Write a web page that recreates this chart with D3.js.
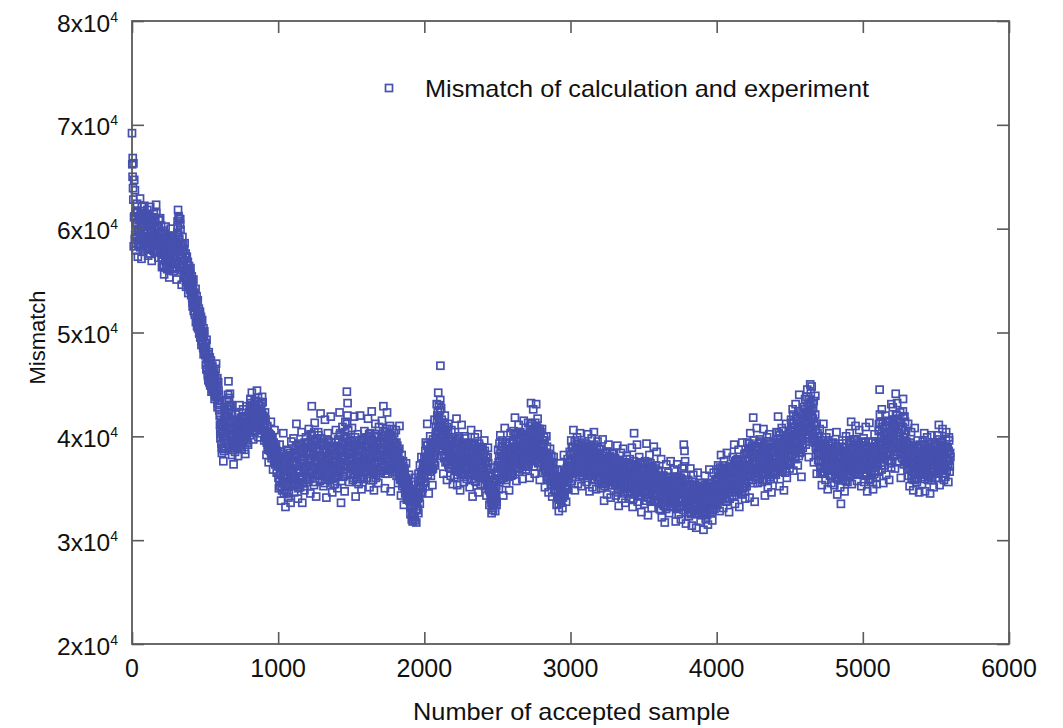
<!DOCTYPE html>
<html>
<head>
<meta charset="utf-8">
<script src="https://cdn.jsdelivr.net/npm/d3@7"></script>
<style>
  html, body { margin: 0; padding: 0; background: #fff; }
  svg { display: block; }
  text { font-family: "Liberation Sans", Arial, sans-serif; fill: #111; }
</style>
</head>
<body>
<svg id="chart" width="1063" height="728"></svg>
<script>
// Accepted-sample mismatch trace, values in units of 1000.
// Three interleaved readings: samples 0,5,10,... / 2,7,12,... / 4,9,14,...
const sampleStep = 5;
const mismatchK = [
  69.2,66.8,66.3,64.7,63.7,61.5,59.2,62.4,57.3,60.8,58.4,62.9,59.9,57.1,61.2,58.9,60.4,62.2,58.0,60.9,
  59.6,61.8,57.4,60.3,58.2,62.1,59.0,56.9,60.7,58.8,61.4,57.8,59.9,62.3,58.5,60.2,57.2,59.4,61.0,58.1,
  58.7,56.3,59.8,57.5,55.6,58.9,60.2,57.0,56.1,59.3,57.9,55.3,58.4,60.0,56.8,57.7,59.1,55.9,58.2,56.6,
  57.4,55.1,59.6,61.8,58.3,56.2,60.9,57.5,54.6,59.2,57.9,55.3,58.6,56.0,54.4,57.3,55.7,53.8,56.4,54.9,
  56.2,53.6,54.8,52.5,55.1,53.0,51.7,54.2,52.8,50.6,53.1,51.4,49.9,52.0,50.3,48.8,51.2,49.5,47.9,50.1,
  48.6,46.9,49.3,47.4,45.8,48.1,46.2,44.9,47.3,45.5,46.8,44.3,46.0,43.6,45.4,47.0,44.1,42.8,45.2,43.4,
  42.0,39.8,41.6,38.4,40.7,37.6,39.5,41.9,38.9,40.8,43.5,41.2,45.3,42.6,44.1,40.3,43.0,38.2,41.4,37.3,
  40.2,38.5,42.1,39.6,41.3,38.1,40.7,43.0,39.2,41.8,38.8,40.4,42.6,39.9,41.1,38.3,40.0,42.9,39.4,41.5,
  42.3,40.1,43.6,41.2,44.2,42.0,39.7,41.8,43.1,40.6,42.7,44.4,41.5,39.9,43.3,41.0,42.5,40.3,43.8,41.7,
  41.9,39.6,42.3,40.4,38.2,41.0,39.1,37.5,40.2,38.6,41.4,37.9,39.8,36.8,38.9,40.6,37.3,39.2,36.5,38.4,
  37.1,35.0,39.2,36.4,33.8,38.0,35.7,40.3,34.5,37.6,33.2,36.2,38.7,35.3,34.1,37.9,36.8,33.6,39.5,35.9,
  36.9,39.8,34.6,38.1,35.5,41.2,37.3,34.0,36.5,39.3,35.1,37.8,40.4,33.6,36.2,38.6,34.8,37.0,39.9,35.8,
  38.3,36.1,40.7,37.4,34.5,39.2,42.9,36.8,38.9,35.3,41.3,37.7,34.2,39.6,36.5,40.1,38.0,35.7,42.2,37.1,
  36.9,39.4,35.2,38.5,41.6,36.3,34.1,37.8,40.3,35.9,38.7,36.6,41.9,37.2,34.6,39.0,36.0,38.2,35.4,40.6,
  37.5,35.0,39.7,36.7,42.3,38.4,33.6,37.9,40.9,36.1,38.8,34.7,41.4,37.3,44.3,43.2,39.1,35.6,38.0,36.4,
  38.5,40.8,35.8,37.6,41.9,36.4,34.2,39.3,37.0,40.2,35.4,38.1,42.0,36.8,34.9,39.6,37.7,35.9,40.5,38.3,
  37.2,39.9,36.0,41.7,38.4,35.1,40.3,37.6,42.4,36.6,39.0,34.8,38.7,41.2,36.3,39.5,37.9,35.5,40.9,38.1,
  39.2,36.7,41.5,38.0,42.9,37.3,35.0,40.1,38.6,42.3,36.4,39.7,37.5,41.0,34.7,38.9,40.7,36.9,39.4,37.8,
  38.4,40.6,36.2,39.1,35.5,37.7,41.0,36.8,34.3,38.2,35.9,37.1,33.4,36.5,34.8,37.4,33.9,35.6,34.0,36.3,
  34.2,32.5,35.6,33.1,31.8,34.7,32.2,36.0,33.5,31.7,34.9,33.0,36.4,34.1,37.2,35.3,38.0,34.6,36.8,35.5,
  37.9,35.6,39.4,36.7,41.2,38.3,34.5,37.1,40.0,36.2,38.8,35.3,39.7,37.4,41.6,38.6,40.9,43.1,39.5,44.2,
  41.8,39.2,46.8,42.7,38.1,40.9,36.4,39.8,42.0,37.5,40.3,35.8,38.7,41.2,37.0,39.5,36.2,40.6,38.3,35.4,
  38.6,36.0,40.4,37.2,41.7,35.3,38.9,36.7,39.8,34.8,37.9,41.1,36.4,38.2,35.6,40.0,37.5,39.3,35.9,38.4,
  36.9,39.2,35.1,37.8,40.6,36.3,34.2,38.5,37.0,39.9,35.7,38.1,36.5,40.2,34.6,37.3,39.0,35.4,38.7,36.1,
  38.2,36.0,39.6,35.2,37.5,34.3,36.8,38.9,35.6,33.4,36.2,34.0,32.6,35.5,33.1,37.0,34.7,32.8,35.9,33.7,
  36.4,38.7,34.9,37.6,40.1,35.8,39.0,36.9,34.3,38.2,40.8,37.1,35.5,39.4,36.6,38.5,34.8,37.9,40.3,36.2,
  38.9,36.3,40.5,37.6,41.8,38.2,35.7,39.6,37.0,41.1,36.6,39.1,40.2,37.9,35.9,38.6,41.5,37.3,39.8,36.8,
  39.4,37.1,41.3,38.5,36.0,40.6,43.2,39.0,37.6,42.6,38.8,36.4,40.1,43.1,38.2,41.7,37.4,39.9,35.8,40.4,
  38.6,40.7,36.5,39.2,37.3,35.1,38.4,40.0,36.1,37.9,34.6,36.9,38.8,35.4,37.2,34.2,36.3,38.0,34.9,36.7,
  35.2,33.4,36.8,34.6,32.8,35.9,37.4,34.0,36.1,33.1,35.5,38.2,34.3,36.6,33.7,35.0,37.8,34.9,36.4,38.5,
  37.5,39.6,35.7,38.3,40.6,36.5,34.8,38.9,37.0,39.9,35.4,38.0,36.7,40.3,37.8,35.2,39.1,36.2,38.6,37.3,
  36.9,39.3,35.6,38.1,40.2,37.4,34.7,38.7,36.3,39.8,35.1,37.7,40.4,36.6,38.4,34.9,37.2,39.5,35.8,38.0,
  36.5,38.8,35.0,37.6,39.7,36.0,33.8,37.9,35.5,38.5,34.4,36.9,39.2,35.7,37.3,34.1,36.2,38.3,35.3,37.0,
  35.6,37.9,34.3,36.7,39.1,35.2,33.3,37.2,35.9,38.4,34.0,36.4,38.8,35.0,37.5,33.6,36.0,38.1,34.7,36.8,
  35.3,37.8,34.0,36.5,38.9,33.2,35.9,40.3,37.1,34.6,36.2,39.2,33.7,35.5,38.0,34.3,36.9,32.7,35.0,37.4,
  35.8,33.5,37.6,34.7,39.3,36.1,32.4,35.2,38.2,34.0,36.6,33.1,37.0,35.4,39.0,33.8,36.3,34.5,38.5,35.1,
  34.4,36.7,33.0,35.6,37.8,32.2,34.9,36.2,33.6,31.7,35.3,37.3,33.9,34.8,36.5,32.6,35.0,37.6,33.3,34.1,
  35.6,33.2,36.8,34.3,31.8,35.0,37.3,33.7,32.5,36.0,34.6,32.0,35.4,36.9,33.4,39.2,38.6,34.1,31.6,35.2,
  33.5,35.8,32.3,34.6,36.9,33.0,31.4,34.2,36.3,32.8,35.1,33.7,31.2,34.8,36.5,32.5,33.9,35.5,31.8,34.0,
  32.4,34.7,31.0,33.6,36.2,32.0,35.0,33.3,31.5,34.4,36.8,32.7,35.4,33.9,31.9,34.1,36.5,33.0,35.7,34.6,
  35.9,33.4,37.2,34.6,32.8,36.3,38.2,34.0,35.5,33.1,37.6,35.0,36.8,33.7,38.4,34.9,36.1,32.7,35.3,37.0,
  36.4,34.2,38.0,35.3,39.2,33.5,36.9,37.7,34.8,36.0,38.7,33.2,35.7,37.3,34.5,39.4,36.6,35.1,38.3,34.0,
  37.6,35.2,39.4,36.3,38.6,34.1,40.3,37.0,35.8,38.1,41.8,36.5,33.7,39.0,37.4,40.8,35.5,38.4,36.8,39.7,
  37.3,39.5,35.6,38.2,40.7,36.4,34.3,38.8,37.0,39.9,35.1,37.8,40.2,36.1,38.5,34.6,37.5,39.2,35.9,38.0,
  38.6,36.3,40.4,37.5,41.9,38.9,35.2,39.3,37.1,40.8,36.6,38.2,34.8,39.8,37.7,41.2,36.0,38.7,40.0,37.3,
  39.5,37.4,41.3,38.6,42.6,36.7,40.2,38.0,43.1,39.8,41.7,37.2,40.6,44.0,38.9,42.2,36.1,40.9,39.3,42.8,
  41.4,43.6,39.2,42.3,44.5,40.6,38.0,43.0,45.0,41.8,44.8,39.7,42.7,37.5,41.0,43.9,39.0,36.4,40.3,38.5,
  38.2,40.7,36.4,39.1,35.3,37.7,41.2,36.9,38.6,35.8,39.9,37.3,34.9,38.0,40.3,36.2,38.8,35.5,37.5,39.4,
  37.6,35.3,39.0,36.5,40.4,34.4,37.9,36.0,38.7,35.1,33.5,37.1,39.6,35.8,38.2,34.7,36.8,40.0,37.4,35.6,
  38.1,36.2,40.3,37.3,41.4,35.4,38.9,37.0,39.7,36.5,41.0,38.4,35.7,39.2,37.6,40.6,36.8,38.7,35.2,39.5,
  37.4,39.8,35.6,38.3,40.9,36.5,34.7,38.8,37.1,41.3,35.9,38.0,36.3,39.4,34.9,37.8,40.2,36.7,38.5,35.4,
  38.9,36.6,41.2,44.5,39.5,37.2,42.6,38.1,35.5,40.4,37.8,42.0,36.3,39.7,41.5,38.5,35.8,40.0,37.4,43.1,
  40.2,42.8,38.3,41.6,36.9,44.1,39.4,43.2,37.6,41.0,38.8,42.3,36.0,40.7,39.1,43.6,37.3,41.9,38.0,40.5,
  39.3,36.8,41.2,37.9,35.2,38.6,40.4,36.3,39.0,34.8,37.5,40.8,36.0,38.2,35.6,39.6,37.1,34.6,38.5,36.4,
  37.8,35.4,39.5,36.7,40.3,34.7,38.3,37.0,39.9,35.8,38.9,36.2,34.5,37.6,40.1,36.0,38.5,35.1,39.2,37.3,
  38.6,36.4,40.1,37.2,41.1,35.3,38.0,39.4,36.7,40.7,37.6,35.8,39.0,36.1,40.4,37.8,38.9,35.6,39.6,37.1
];
const mismatchKOffset2 = [
  66.2,63.9,58.3,61.2,59.4,57.9,60.6,61.7,58.8,59.7,61.0,58.2,60.3,62.1,59.1,57.8,60.9,59.5,61.4,58.6,
  60.4,58.1,61.3,59.2,57.6,60.8,59.9,58.6,61.1,57.9,59.4,60.6,58.4,61.5,59.0,57.7,60.2,58.9,61.0,59.6,
  57.2,59.0,56.4,58.3,57.6,59.4,56.9,58.0,56.2,58.8,57.3,59.2,56.6,58.5,57.8,56.1,59.3,57.0,58.6,56.7,
  58.9,56.7,60.7,59.4,61.0,57.8,59.9,56.3,58.2,57.1,56.5,58.0,55.4,57.6,56.0,55.2,56.8,54.7,55.9,54.1,
  55.0,54.1,53.3,54.5,52.1,53.8,52.6,51.0,53.5,51.8,50.4,52.3,50.9,49.6,51.5,49.2,50.0,48.5,49.7,48.2,
  47.8,48.9,46.4,47.9,45.4,46.7,47.6,45.0,46.3,44.6,45.9,44.8,45.2,44.0,46.5,43.8,44.7,43.2,44.4,42.5,
  41.1,40.2,39.3,40.9,38.8,41.5,40.0,42.4,39.7,41.9,42.8,44.0,43.3,41.7,42.9,39.6,40.8,39.1,38.7,40.1,
  39.3,41.4,40.0,38.9,41.0,39.7,42.2,40.5,39.0,40.9,41.7,39.5,40.2,41.9,38.7,40.6,41.2,39.8,40.8,42.0,
  41.4,42.9,40.8,42.2,43.0,41.1,40.5,42.6,41.9,43.4,40.9,42.1,43.7,41.3,42.4,40.7,41.8,43.2,42.0,40.9,
  40.8,41.3,39.9,40.5,39.4,40.0,38.7,39.6,38.9,39.7,38.4,39.3,38.1,38.8,37.6,38.5,37.9,38.2,37.4,37.9,
  36.0,37.8,35.2,36.9,38.3,34.8,36.6,37.5,35.6,36.3,38.1,34.6,37.2,36.1,35.4,37.0,38.4,35.8,36.7,37.3,
  37.5,35.8,38.4,36.1,39.0,37.9,35.3,38.7,36.8,37.4,39.2,36.0,38.1,35.6,37.7,36.5,39.4,37.1,35.9,38.3,
  37.7,39.4,36.5,38.6,40.2,37.2,39.0,36.0,38.2,40.4,36.9,38.8,37.4,39.8,36.3,38.5,37.0,39.3,36.7,38.1,
  38.0,36.4,39.1,37.3,35.8,38.6,37.9,39.7,36.2,37.6,38.9,36.9,39.4,35.9,38.3,37.1,39.0,36.6,38.4,37.4,
  38.3,36.5,39.6,37.4,40.1,36.8,38.9,37.7,39.3,36.2,38.0,40.4,37.1,39.8,41.2,39.5,37.6,38.7,36.9,39.1,
  37.9,39.5,36.3,38.4,37.1,39.9,36.7,38.2,35.9,37.6,39.2,36.9,38.8,37.3,39.7,36.1,38.0,37.5,39.0,36.6,
  38.4,36.6,39.3,37.8,40.2,36.9,38.9,37.2,39.7,38.1,36.4,39.0,37.5,40.0,38.3,36.8,39.4,37.7,38.8,36.7,
  38.1,40.0,37.4,39.2,36.7,38.6,40.4,37.9,39.5,37.1,38.8,40.2,36.9,39.0,38.3,37.6,39.8,38.0,37.2,39.3,
  39.0,37.4,38.5,36.9,38.1,36.3,37.7,35.8,37.2,36.0,36.8,35.4,36.1,35.0,35.7,34.6,35.3,34.3,35.0,34.5,
  33.8,34.6,33.2,32.6,34.0,33.4,32.3,33.9,34.5,33.6,32.9,34.3,35.1,35.8,35.0,36.3,35.9,36.6,37.0,36.2,
  37.2,38.6,36.6,38.0,39.2,37.5,36.9,38.3,39.0,37.7,36.8,38.4,37.9,39.3,38.2,39.8,40.4,41.5,42.3,40.9,
  40.5,42.5,41.0,39.6,40.2,38.6,39.9,37.9,40.7,38.9,39.3,37.6,39.9,38.4,39.0,37.8,38.7,39.5,37.2,38.0,
  37.7,39.2,36.8,38.5,37.3,39.6,36.6,38.1,37.8,39.0,36.4,38.7,37.4,39.4,37.0,38.3,36.9,38.9,37.6,37.1,
  37.6,38.4,36.5,37.9,38.9,36.8,37.3,39.3,36.2,38.0,37.2,38.6,36.7,37.8,38.8,36.4,37.5,38.2,36.9,37.7,
  37.0,38.3,36.4,37.6,35.9,36.9,35.3,37.4,34.8,35.7,34.6,33.9,34.9,33.5,34.2,35.1,33.8,34.5,35.2,35.8,
  37.2,36.3,38.1,37.0,38.6,36.6,37.8,39.1,36.0,37.4,38.3,36.8,39.3,37.6,36.4,38.8,37.1,36.7,38.4,37.9,
  38.1,39.6,37.5,39.0,38.3,40.1,37.2,38.8,39.7,37.8,38.6,40.4,37.4,39.2,38.0,39.9,37.7,38.9,39.4,38.2,
  38.4,40.0,39.3,37.9,40.7,38.6,39.6,41.2,38.1,39.8,40.3,37.7,39.1,40.9,38.9,39.5,40.5,38.3,39.7,38.7,
  39.2,37.8,38.5,37.0,39.6,37.9,36.8,38.2,37.4,36.6,37.7,35.9,37.5,36.4,35.8,36.9,35.6,36.2,35.5,35.9,
  34.7,35.8,34.2,35.4,33.9,34.8,35.6,33.6,34.9,35.7,34.4,36.0,35.2,36.3,35.9,36.8,36.2,37.1,37.5,36.9,
  38.2,36.8,37.6,39.0,37.2,38.4,36.6,37.9,39.3,37.4,38.7,36.9,38.1,37.5,39.1,36.7,38.0,37.7,38.9,37.1,
  37.8,36.5,38.6,37.0,38.2,36.2,37.6,39.0,36.8,38.4,37.3,36.6,38.9,37.5,36.9,38.1,37.9,36.4,37.2,38.7,
  37.3,35.8,36.5,38.1,36.9,35.5,37.7,36.3,38.4,36.0,37.1,35.9,37.5,36.6,38.0,35.7,36.8,37.4,36.2,37.9,
  36.6,35.4,37.3,35.9,37.0,34.8,36.3,37.6,35.6,36.9,35.2,36.1,37.4,35.8,36.7,34.9,36.4,37.1,35.5,36.2,
  36.1,35.0,36.8,34.7,37.3,35.6,36.4,34.4,35.9,37.0,35.3,36.5,34.9,36.2,35.7,37.5,34.6,35.8,36.6,35.1,
  35.0,36.4,34.4,35.8,37.0,35.3,34.1,36.2,35.6,37.4,34.8,35.9,36.7,34.5,35.5,36.9,34.2,35.7,36.1,34.9,
  35.1,33.7,34.8,36.0,33.9,35.4,34.2,33.4,35.8,34.5,33.2,34.9,36.1,34.0,35.2,33.6,34.6,35.6,33.8,34.3,
  34.2,35.3,33.5,34.8,36.0,33.1,34.5,35.6,33.9,34.9,33.3,35.9,34.4,33.7,35.1,37.1,35.8,34.6,33.2,34.0,
  34.3,33.1,35.0,33.8,34.6,32.6,33.9,35.3,33.4,34.1,32.9,34.8,33.6,35.2,32.8,34.4,33.2,34.9,33.5,34.7,
  33.7,32.8,34.5,33.2,35.1,33.9,32.5,34.2,33.5,35.4,33.0,34.0,35.0,32.9,34.6,33.4,35.2,34.1,33.6,35.0,
  35.2,34.3,36.1,35.0,36.6,34.5,35.7,36.9,34.7,35.4,36.3,34.1,35.9,36.5,35.1,34.6,36.0,35.6,34.9,36.4,
  35.6,36.8,34.9,36.3,37.2,35.4,36.0,37.5,35.2,36.6,34.7,36.4,37.0,35.8,36.9,35.0,37.3,36.1,35.5,36.7,
  36.9,38.3,37.1,38.8,36.4,37.8,38.5,36.7,39.1,37.3,38.0,36.1,38.7,37.5,36.6,38.2,37.9,39.3,37.0,38.4,
  38.0,36.6,37.4,38.7,36.9,37.8,39.0,36.5,38.3,37.1,38.9,36.8,37.6,38.4,36.3,37.9,38.6,37.2,36.7,38.1,
  37.9,39.3,38.1,39.7,37.4,38.8,40.1,37.7,39.0,38.4,36.9,39.5,38.0,37.2,38.9,39.9,37.6,38.6,39.2,38.3,
  38.8,40.4,39.1,40.9,38.3,41.2,39.6,40.0,38.6,41.5,39.4,40.7,38.1,39.9,41.0,38.5,40.3,39.2,41.8,40.6,
  40.5,42.0,41.1,39.8,42.9,41.5,40.2,42.4,43.3,40.9,41.9,43.1,40.0,41.3,39.4,40.7,38.7,39.9,38.3,39.1,
  37.5,39.0,38.4,37.0,38.9,36.6,38.1,39.3,37.4,38.7,36.9,38.3,37.8,39.1,36.7,37.9,38.5,37.1,38.2,37.6,
  36.8,38.3,37.3,38.9,36.4,37.8,38.5,36.7,37.2,38.1,36.2,38.6,37.0,36.5,38.0,37.7,36.1,38.4,37.5,36.9,
  37.4,38.8,37.0,39.2,38.2,36.7,38.5,37.7,39.6,37.2,38.6,36.9,38.0,39.4,37.5,36.8,38.3,39.0,37.1,38.4,
  38.1,36.8,37.6,39.1,36.4,38.4,37.2,39.5,36.9,37.8,38.7,36.3,37.4,38.9,37.9,36.6,38.2,37.0,39.0,37.5,
  37.8,39.4,40.6,42.1,38.7,40.0,39.1,41.4,37.9,38.6,40.3,39.2,38.2,40.8,39.6,37.6,38.9,41.1,39.9,40.5,
  39.0,41.2,39.8,40.6,38.6,42.1,40.3,39.4,41.7,38.9,40.0,41.4,39.2,38.4,40.9,41.9,39.6,40.2,38.8,39.5,
  38.4,37.6,39.2,36.9,38.0,37.3,38.7,36.6,37.8,38.9,36.4,37.5,38.3,37.0,39.0,36.7,38.1,37.4,36.8,37.9,
  37.1,38.6,36.5,38.0,37.4,39.1,36.8,37.9,38.4,36.3,37.6,38.8,37.2,36.6,38.2,37.7,36.9,38.5,37.3,38.1,
  37.9,38.7,37.0,39.2,38.2,36.8,38.5,37.4,39.5,37.8,38.1,36.9,38.8,37.6,39.0,38.3,37.2,38.6,37.7,38.4
];
const mismatchKOffset4 = [
  65.0,62.8,61.1,59.0,60.5,58.6,61.6,59.8,58.4,60.9,59.3,61.4,58.9,60.2,61.7,59.6,58.5,60.7,59.1,61.2,
  58.7,60.9,59.3,58.0,60.4,61.1,58.5,59.8,60.7,57.9,59.1,61.0,58.3,60.1,59.6,58.1,60.8,59.0,57.9,60.3,
  58.1,57.0,59.1,56.5,57.8,58.7,56.3,57.4,59.0,56.9,58.4,56.4,57.6,59.2,56.7,58.3,57.2,56.2,58.0,57.5,
  56.3,58.1,60.2,61.2,59.0,60.4,58.5,57.2,56.0,58.4,56.9,55.8,57.2,55.0,56.6,54.8,56.1,55.4,54.5,55.6,
  54.3,55.4,52.9,53.9,53.4,51.9,52.4,53.0,51.3,52.1,51.0,50.7,51.7,49.5,50.8,49.9,49.0,50.4,48.6,49.0,
  48.0,46.5,47.6,46.0,47.1,45.2,46.9,45.7,44.3,46.0,45.1,46.3,44.4,45.8,43.9,44.9,45.6,43.5,44.0,43.0,
  40.5,41.2,38.9,40.3,39.9,38.6,41.0,40.4,42.0,39.3,41.9,42.6,43.7,43.0,41.5,42.2,39.9,40.6,39.5,38.9,
  40.7,39.4,41.0,40.2,39.0,41.6,40.0,41.4,40.8,39.3,40.5,41.9,39.7,41.2,40.3,39.6,41.5,40.9,39.2,40.6,
  41.6,42.5,43.2,41.0,42.8,41.4,42.2,43.4,40.8,41.9,42.6,41.2,43.0,42.0,40.7,42.9,41.5,42.3,43.3,41.8,
  41.0,40.1,41.6,39.8,40.9,39.0,40.3,38.8,39.5,40.1,38.6,39.9,38.3,39.4,38.0,39.0,37.7,38.6,37.9,37.5,
  37.4,35.6,36.3,38.5,35.1,37.0,36.2,38.0,34.9,36.8,37.7,35.4,36.0,38.6,34.5,37.3,35.9,38.2,36.5,35.2,
  36.3,38.0,35.4,37.5,39.1,36.6,38.3,35.0,37.1,38.8,35.9,37.4,36.1,38.9,35.2,37.6,36.8,38.5,35.6,37.2,
  39.0,36.7,38.3,35.9,37.8,40.1,36.4,38.6,39.6,37.0,35.6,39.2,37.6,38.1,40.4,36.2,38.8,37.3,39.8,36.6,
  36.6,38.8,37.6,35.5,39.2,37.0,38.4,36.1,39.5,37.4,35.8,38.2,36.8,39.0,37.7,35.4,38.6,36.3,39.4,37.2,
  37.0,39.1,36.2,38.6,40.3,37.5,35.7,39.4,38.1,36.6,40.0,37.8,36.4,38.9,42.0,40.6,38.4,37.1,39.6,36.9,
  37.3,38.9,36.0,38.3,39.6,36.8,37.9,35.6,39.1,37.6,36.5,38.6,35.9,39.4,37.0,38.5,36.3,39.7,37.4,38.0,
  37.5,39.6,36.4,38.9,37.1,40.0,36.6,38.3,37.9,35.8,39.2,37.3,40.2,36.0,38.6,39.9,37.0,38.2,36.5,39.4,
  39.6,37.6,38.8,40.5,37.0,39.3,36.4,38.3,40.7,37.8,39.9,36.8,38.6,40.1,37.3,39.1,36.6,38.4,40.3,38.0,
  38.1,39.4,37.0,38.6,36.4,38.8,35.9,37.3,36.6,35.2,37.6,35.7,36.9,34.5,36.0,35.0,35.8,34.7,35.3,33.8,
  33.2,34.3,32.0,33.7,32.7,33.3,31.9,34.2,32.9,33.8,34.0,32.6,34.6,33.5,35.6,34.5,36.5,35.0,37.4,36.0,
  36.7,38.0,37.4,39.1,36.3,38.6,37.6,36.6,38.5,37.0,39.4,36.9,38.1,38.8,37.2,40.2,39.2,42.0,40.6,43.0,
  41.3,43.5,40.1,41.6,39.1,40.5,38.2,41.1,39.4,38.1,40.9,38.7,37.3,39.7,38.6,36.9,39.2,37.7,39.9,37.5,
  38.1,36.7,39.5,37.5,36.3,38.7,40.0,37.0,38.4,36.5,39.3,37.7,38.9,36.1,38.0,39.8,36.8,37.9,39.1,37.2,
  36.3,38.2,37.4,39.4,35.9,37.8,38.7,36.6,39.1,37.1,35.6,38.5,37.6,36.2,39.3,37.9,36.0,38.6,37.3,38.9,
  37.6,36.6,38.6,36.2,37.9,35.3,38.0,36.1,36.5,34.9,35.3,33.6,34.4,32.9,35.0,33.6,35.7,34.0,33.4,36.6,
  36.9,37.5,39.3,35.9,38.3,37.2,39.6,36.2,38.0,36.8,39.1,35.8,37.7,38.5,36.1,37.4,39.4,36.5,37.9,38.8,
  39.3,37.4,38.7,40.2,37.0,39.0,38.0,36.9,40.3,38.4,37.3,39.5,38.9,36.8,39.9,37.6,40.1,38.5,37.1,39.7,
  40.2,38.3,37.3,39.5,41.0,37.8,38.7,40.4,39.3,37.1,39.8,41.3,38.0,39.2,40.8,37.5,38.6,40.7,39.0,37.9,
  37.5,39.6,38.0,39.9,36.7,38.4,37.2,39.0,35.9,37.6,38.3,36.2,37.0,38.1,35.7,37.5,36.6,34.8,36.0,35.4,
  35.9,34.1,35.3,33.5,35.7,34.4,33.9,35.1,36.0,34.1,35.8,34.6,36.5,34.9,36.9,35.6,37.1,35.9,36.5,37.7,
  37.0,38.9,36.4,38.5,37.6,39.5,36.1,38.0,37.3,36.6,39.2,37.9,36.3,38.7,37.1,39.4,36.9,38.2,36.5,38.8,
  38.3,37.1,39.1,36.0,37.9,38.8,36.5,37.4,38.6,35.9,37.0,39.2,36.3,38.1,37.7,39.0,36.1,38.4,36.7,37.6,
  36.1,37.8,35.4,37.0,38.3,36.6,35.2,37.5,36.4,38.5,35.7,37.2,36.0,38.1,35.3,37.6,36.8,38.4,35.6,36.5,
  37.1,35.3,36.4,37.7,34.6,36.2,35.8,37.5,34.9,36.6,37.2,35.1,36.8,34.5,37.0,35.6,37.8,35.0,36.3,37.4,
  36.7,34.5,37.2,35.4,36.1,34.0,37.6,35.8,36.6,34.7,37.1,35.2,36.3,34.2,37.4,35.9,36.0,34.8,37.3,35.5,
  34.6,36.8,35.4,33.8,36.2,37.3,34.8,35.9,36.9,33.7,35.6,37.1,34.3,36.4,35.1,33.9,37.2,35.7,34.4,36.6,
  33.5,35.9,34.5,32.9,35.4,34.0,36.2,33.3,34.8,35.7,33.0,34.3,35.5,33.8,36.0,34.6,33.2,35.2,34.1,35.8,
  34.9,33.6,35.8,34.1,33.0,35.5,36.1,34.6,33.3,35.2,36.0,33.9,34.7,35.6,32.9,36.3,37.6,35.1,33.8,34.4,
  32.7,34.9,33.5,35.4,32.5,34.2,35.6,33.2,34.7,32.9,35.3,33.9,32.6,34.5,35.1,33.0,34.8,32.8,35.5,33.7,
  34.9,33.3,32.6,35.3,33.8,34.6,32.4,35.0,34.1,32.9,35.5,33.6,34.4,32.7,35.2,33.1,34.7,35.6,33.4,34.2,
  34.6,36.8,35.3,33.9,37.0,35.9,34.2,36.5,35.0,37.2,34.4,36.2,35.6,33.8,36.7,35.2,37.1,34.0,36.4,35.7,
  37.0,35.1,36.7,34.3,37.6,35.8,34.6,36.4,37.8,35.3,36.9,34.9,37.3,36.2,34.4,37.5,35.5,36.8,34.7,37.1,
  38.4,36.5,37.9,35.8,39.3,37.1,36.2,38.9,37.6,35.5,39.6,38.1,36.9,37.4,39.0,36.4,38.6,35.9,39.4,37.0,
  36.8,38.6,37.2,35.8,39.2,37.7,36.4,38.9,35.7,38.0,36.6,39.4,37.4,35.9,38.5,37.0,36.3,39.0,37.8,36.5,
  39.4,37.4,38.9,36.6,40.3,38.1,37.0,39.8,38.5,36.8,40.5,37.8,39.1,36.5,38.3,40.0,37.3,39.6,38.0,36.9,
  39.9,41.6,38.2,40.5,42.1,39.0,40.8,37.8,41.9,39.5,38.7,42.4,40.1,38.4,41.3,39.7,42.0,38.9,40.4,41.1,
  42.6,40.1,43.8,41.6,40.8,43.5,42.2,39.5,44.2,42.5,40.4,41.7,43.4,39.8,42.1,38.9,41.2,40.0,37.7,39.6,
  39.2,37.0,38.5,36.5,39.6,37.7,38.2,36.4,39.0,37.4,38.8,36.7,39.5,37.6,38.1,36.3,39.3,38.0,36.9,38.6,
  38.2,36.1,39.1,37.0,35.9,38.7,37.4,39.3,36.3,38.0,35.8,37.6,38.9,36.6,39.0,37.2,35.7,38.5,36.8,38.1,
  38.7,37.2,39.5,36.4,38.3,37.7,39.2,36.6,38.1,39.7,37.0,38.9,36.3,37.9,39.0,37.4,38.6,36.8,39.4,37.6,
  36.5,38.5,37.1,39.4,36.2,37.9,38.7,35.8,37.5,39.0,36.7,38.3,37.0,35.6,38.8,36.4,37.7,39.3,36.0,38.1,
  37.4,40.5,38.0,41.3,39.2,36.8,40.9,38.4,39.8,37.2,41.0,38.8,40.1,37.7,39.4,41.4,38.2,39.6,37.0,40.2,
  41.6,39.3,40.8,38.1,41.0,39.7,42.0,38.5,40.4,37.5,41.3,39.0,40.6,37.9,42.4,39.9,38.7,41.4,39.4,37.7,
  37.1,38.9,36.2,38.4,39.4,37.5,36.0,38.1,37.4,35.8,39.1,36.9,38.5,35.9,37.8,38.8,36.5,39.2,37.0,38.3,
  38.4,36.3,37.9,39.2,35.9,38.7,36.4,38.1,37.0,39.3,36.1,37.5,38.6,35.8,37.2,39.0,36.6,37.8,38.3,36.0,
  39.3,37.1,38.3,36.5,39.7,37.5,36.9,38.8,37.3,39.1,36.4,38.4,37.0,39.6,36.7,38.9,37.6,39.9,36.6,38.0
];

const xTicks = [0, 1000, 2000, 3000, 4000, 5000, 6000];
const yTicks = [2, 3, 4, 5, 6, 7, 8];          // mantissa of n x 10^4
const yTickExponent = 4;
const legendLabel = "Mismatch of calculation and experiment";
const xTitle = "Number of accepted sample";
const yTitle = "Mismatch";

const traces = [
  { values: mismatchK, offset: 0 },
  { values: mismatchKOffset2, offset: 2 },
  { values: mismatchKOffset4, offset: 4 }
];
const points = traces
  .flatMap(t => t.values.map((v, i) => ({ sample: i * sampleStep + t.offset, value: v * 1000 })))
  .sort((a, b) => a.sample - b.sample);

const svg = d3.select("#chart");
const plot = { left: 132, top: 21, right: 1009, bottom: 644 };

const x = d3.scaleLinear().domain([0, 6000]).range([plot.left, plot.right]);
const y = d3.scaleLinear().domain([20000, 80000]).range([plot.bottom, plot.top]);

const markerColor = "#4650ae";
const frameColor = "#5a5a5a";
const tickLen = 12;
const markerSize = 7;

// Data markers: hollow squares
svg.append("g")
  .selectAll("rect")
  .data(points)
  .join("rect")
  .attr("x", d => x(d.sample) - markerSize / 2)
  .attr("y", d => y(d.value) - markerSize / 2)
  .attr("width", markerSize)
  .attr("height", markerSize)
  .attr("fill", "none")
  .attr("stroke", markerColor)
  .attr("stroke-width", 1.7);

// Axes with inward ticks on all four sides
const axisStyle = g => {
  g.select(".domain").remove();
  g.selectAll(".tick line").attr("stroke", frameColor).attr("stroke-width", 1.6);
};

svg.append("g")
  .attr("transform", `translate(0,${plot.bottom})`)
  .call(d3.axisBottom(x).tickValues(xTicks).tickSize(-tickLen).tickFormat(""))
  .call(axisStyle);
svg.append("g")
  .attr("transform", `translate(0,${plot.top})`)
  .call(d3.axisTop(x).tickValues(xTicks).tickSize(-tickLen).tickFormat(""))
  .call(axisStyle);
svg.append("g")
  .attr("transform", `translate(${plot.left},0)`)
  .call(d3.axisLeft(y).tickValues(yTicks.map(t => t * 1e4)).tickSize(-tickLen).tickFormat(""))
  .call(axisStyle);
svg.append("g")
  .attr("transform", `translate(${plot.right},0)`)
  .call(d3.axisRight(y).tickValues(yTicks.map(t => t * 1e4)).tickSize(-tickLen).tickFormat(""))
  .call(axisStyle);

// Frame
svg.append("rect")
  .attr("x", plot.left).attr("y", plot.top)
  .attr("width", plot.right - plot.left).attr("height", plot.bottom - plot.top)
  .attr("fill", "none").attr("stroke", frameColor).attr("stroke-width", 1.8);

// X tick labels
svg.append("g")
  .selectAll("text")
  .data(xTicks)
  .join("text")
  .attr("x", d => x(d))
  .attr("y", plot.bottom + 33)
  .attr("text-anchor", "middle")
  .attr("font-size", 25)
  .text(d => d);

// Y tick labels: n x 10^4 with superscript exponent
const yLab = svg.append("g")
  .selectAll("text")
  .data(yTicks)
  .join("text")
  .attr("x", plot.left - 14)
  .attr("y", d => y(d * 1e4) + 10.5)
  .attr("text-anchor", "end")
  .attr("font-size", 24.5);
yLab.append("tspan").text(d => d + "x10");
yLab.append("tspan")
  .attr("font-size", 14)
  .attr("dy", -10)
  .text(yTickExponent);

// Axis titles
svg.append("text")
  .attr("x", 413)
  .attr("y", 720)
  .attr("font-size", 24)
  .attr("textLength", 317)
  .attr("lengthAdjust", "spacingAndGlyphs")
  .text(xTitle);

svg.append("text")
  .attr("transform", `translate(45,${(plot.top + plot.bottom) / 2 + 5}) rotate(-90)`)
  .attr("text-anchor", "middle")
  .attr("font-size", 22)
  .text(yTitle);

// Legend
const legend = svg.append("g").attr("transform", "translate(389,88)");
legend.append("rect")
  .attr("x", -markerSize / 2).attr("y", -markerSize / 2)
  .attr("width", markerSize).attr("height", markerSize)
  .attr("fill", "none").attr("stroke", markerColor).attr("stroke-width", 1.7);
legend.append("text")
  .attr("x", 36)
  .attr("y", 9)
  .attr("font-size", 24)
  .attr("textLength", 444)
  .attr("lengthAdjust", "spacingAndGlyphs")
  .text(legendLabel);
</script>
</body>
</html>
